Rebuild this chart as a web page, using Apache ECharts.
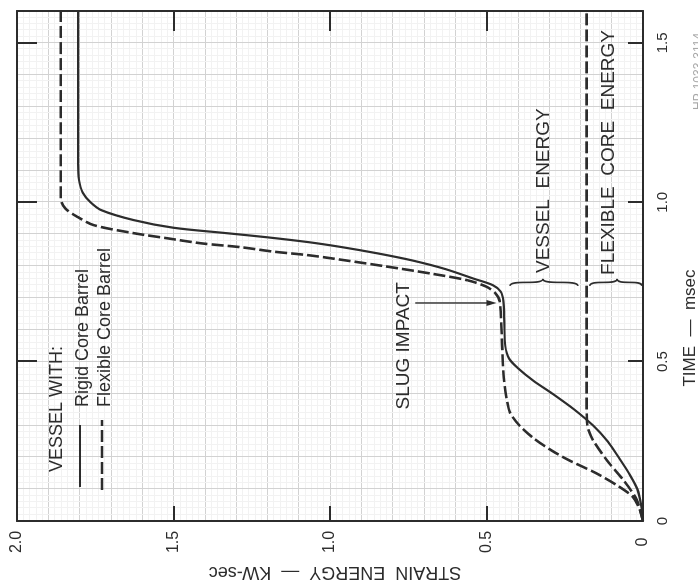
<!DOCTYPE html>
<html>
<head>
<meta charset="utf-8">
<script src="https://cdn.jsdelivr.net/npm/echarts@6/dist/echarts.min.js"></script>
<style>
  html, body { margin: 0; padding: 0; width: 698px; height: 585px; overflow: hidden; background: #fff; }
  /* The plot is laid out upright (time along x) and turned a quarter turn counter-clockwise */
  #chart { position: absolute; left: 0; top: 0; width: 585px; height: 698px;
           transform-origin: 0 0; transform: translate(0px, 585px) rotate(-90deg); }
</style>
</head>
<body>
<div id="chart"></div>
<script>
// ---- Axes -------------------------------------------------------------
const timeMin = 0, timeMax = 1.6;                 // msec
const timeTickValues = [0, 0.5, 1.0, 1.5];
const timeTickLabels = ['0', '0.5', '1.0', '1.5'];

const energyMin = 0, energyMax = 2.0;             // KW-sec
const energyTickValues = [0, 0.5, 1.0, 1.5, 2.0];
const energyTickLabels = ['0', '0.5', '1.0', '1.5', '2.0'];

// ---- Vessel strain energy, rigid core barrel --------------------------
const rigidTime   = [0, 0.05, 0.10, 0.15, 0.20, 0.25, 0.30, 0.35, 0.40, 0.44, 0.48, 0.51, 0.55, 0.62, 0.69, 0.72, 0.74, 0.76, 0.79, 0.818, 0.84, 0.86, 0.875, 0.89, 0.903, 0.92, 0.944, 0.975, 1.0, 1.03, 1.07, 1.12, 1.6];
const rigidEnergy = [0, 0.006, 0.018, 0.045, 0.078, 0.113, 0.16, 0.22, 0.29, 0.35, 0.40, 0.428, 0.44, 0.443, 0.446, 0.455, 0.48, 0.54, 0.63, 0.74, 0.85, 0.967, 1.07, 1.2, 1.33, 1.5, 1.627, 1.73, 1.765, 1.79, 1.802, 1.805, 1.805];

// ---- Vessel strain energy, flexible core barrel -----------------------
const flexTime   = [0, 0.04, 0.075, 0.107, 0.15, 0.19, 0.22, 0.26, 0.30, 0.34, 0.38, 0.45, 0.55, 0.69, 0.715, 0.735, 0.755, 0.775, 0.80, 0.82, 0.834, 0.845, 0.859, 0.871, 0.887, 0.903, 0.928, 0.953, 0.98, 1.01, 1.6];
const flexEnergy = [0, 0.012, 0.032, 0.075, 0.15, 0.235, 0.29, 0.35, 0.395, 0.425, 0.435, 0.445, 0.45, 0.458, 0.472, 0.50, 0.56, 0.67, 0.83, 0.967, 1.07, 1.18, 1.285, 1.41, 1.52, 1.627, 1.754, 1.805, 1.845, 1.86, 1.86];

// ---- Strain energy of the flexible core barrel itself -----------------
const coreTime   = [0, 0.066, 0.13, 0.19, 0.254, 0.29, 0.31, 0.35, 1.6];
const coreEnergy = [0, 0.02, 0.064, 0.115, 0.16, 0.176, 0.179, 0.18, 0.18];

// ---- Styling ----------------------------------------------------------
const INK = '#2c2c2c';
const GRID_MAJOR = '#d2d2d2';
const GRID_MINOR = '#f2f2f2';
const FONT = '"Liberation Sans", Arial, Helvetica, sans-serif';
const DASH = [12, 4];

const pairs = (xs, ys) => xs.map((x, i) => [x, ys[i]]);
const labelFor = (values, labels) => v => {
  const i = values.findIndex(x => Math.abs(x - v) < 1e-6);
  return i < 0 ? '' : labels[i];
};

const hidden = { show: false };
function tickAxis(min, max, position, len, extra) {
  return Object.assign({
    type: 'value', min, max, interval: 0.5, position,
    axisLine: { show: true, onZero: false, lineStyle: { color: INK, width: 2 } },
    axisTick: { show: true, inside: true, length: len, lineStyle: { color: INK, width: 2 } },
    axisLabel: hidden, splitLine: hidden
  }, extra || {});
}
function gridAxis(min, max, position) {
  return {
    type: 'value', min, max, interval: 0.1, position,
    axisLine: hidden, axisTick: hidden, axisLabel: hidden,
    splitLine: { show: true, showMinLine: false, showMaxLine: false, lineStyle: { color: GRID_MAJOR, width: 1 } },
    minorTick: { show: false, splitNumber: 5 },
    minorSplitLine: { show: true, lineStyle: { color: GRID_MINOR, width: 1 } },
    z: 0
  };
}

const option = {
  animation: false,
  backgroundColor: '#fff',
  grid: { left: 64, right: 11, top: 17, bottom: 55, containLabel: false },
  xAxis: [
    tickAxis(timeMin, timeMax, 'bottom', 15, {
      axisLabel: { show: true, formatter: labelFor(timeTickValues, timeTickLabels),
                   color: INK, fontSize: 15, fontFamily: FONT, margin: 12 }
    }),
    tickAxis(timeMin, timeMax, 'top', 20),
    gridAxis(timeMin, timeMax, 'bottom')
  ],
  yAxis: [
    tickAxis(energyMin, energyMax, 'left', 15, {
      axisLabel: { show: true, formatter: labelFor(energyTickValues, energyTickLabels),
                   color: INK, fontSize: 16, fontFamily: FONT, margin: 21, align: 'center' }
    }),
    tickAxis(energyMin, energyMax, 'right', 20),
    gridAxis(energyMin, energyMax, 'left')
  ],
  series: [
    { name: 'Rigid Core Barrel', type: 'line', data: pairs(rigidTime, rigidEnergy),
      smooth: 0.3, showSymbol: false, z: 5,
      lineStyle: { color: INK, width: 2.2, type: 'solid' } },
    { name: 'Flexible Core Barrel', type: 'line', data: pairs(flexTime, flexEnergy),
      smooth: 0.3, showSymbol: false, z: 5,
      lineStyle: { color: INK, width: 2.6, type: DASH } },
    { name: 'Flexible Core Energy', type: 'line', data: pairs(coreTime, coreEnergy),
      smooth: 0.3, showSymbol: false, z: 5,
      lineStyle: { color: INK, width: 2.6, type: DASH } }
  ]
};

const chart = echarts.init(document.getElementById('chart'), null, { renderer: 'canvas', width: 585, height: 698 });
chart.setOption(option);

// ---- Annotations ------------------------------------------------------
const P = (t, e) => chart.convertToPixel({ xAxisIndex: 0, yAxisIndex: 0 }, [t, e]);

function text(str, x, y, size, extra) {
  const el = {
    type: 'text', x, y, z: 20,
    style: { text: str, fill: INK, font: size + 'px ' + FONT, align: 'left', verticalAlign: 'middle' }
  };
  if (extra) {
    if (extra.align) el.style.align = extra.align;
    if (extra.fill) el.style.fill = extra.fill;
    if (extra.rotation) el.rotation = extra.rotation;
  }
  return el;
}
function seg(x1, y1, x2, y2, dash, width) {
  return { type: 'line', z: 20, shape: { x1, y1, x2, y2 },
           style: { stroke: INK, lineWidth: width || 2, lineDash: dash || null } };
}
function curve(x1, y1, cpx1, cpy1, cpx2, cpy2, x2, y2) {
  return { type: 'bezierCurve', z: 20, shape: { x1, y1, cpx1, cpy1, cpx2, cpy2, x2, y2 },
           style: { stroke: INK, lineWidth: 1.6, fill: null } };
}
// curly brace whose ends sit at x and whose point reaches x + d at ym
function brace(x, y1, ym, y2, d) {
  return [
    curve(x, y1, x + d, y1, x, ym, x + d, ym),
    curve(x + d, ym, x, ym, x + d, y2, x, y2)
  ];
}

const slugText = P(0.35, 0.764);
const arrowFrom = P(0.684, 0.728);
const arrowTip = P(0.684, 0.468);
const vesselText = P(0.778, 0.316);
const vBrTop = P(0.747, 0.425), vBrMid = P(0.747, 0.32), vBrBot = P(0.747, 0.208);
const coreText = P(0.772, 0.109);
const cBrTop = P(0.747, 0.17), cBrMid = P(0.747, 0.083), cBrBot = P(0.747, 0.003);

const graphics = [
  // legend
  text('VESSEL WITH:', 113, 57, 18),
  seg(98, 80, 160, 80, null, 2.2),
  text('Rigid Core Barrel', 178, 83, 18),
  seg(95, 102, 165, 102, DASH, 2.6),
  text('Flexible Core Barrel', 178, 105, 18),

  // slug impact marker
  text('SLUG IMPACT', slugText[0], slugText[1], 19),
  seg(arrowFrom[0], arrowFrom[1], arrowTip[0], arrowTip[1] - 8, null, 1.4),
  { type: 'polygon', z: 20,
    shape: { points: [[arrowTip[0], arrowTip[1]], [arrowTip[0] - 3, arrowTip[1] - 10], [arrowTip[0] + 3, arrowTip[1] - 10]] },
    style: { fill: INK } },

  // energy components
  ...brace(vBrTop[0] - 3, vBrTop[1], vBrMid[1], vBrBot[1], 7),
  text('VESSEL  ENERGY', vesselText[0], vesselText[1], 19),
  ...brace(cBrTop[0] - 3, cBrTop[1], cBrMid[1], cBrBot[1], 7),
  text('FLEXIBLE  CORE  ENERGY', coreText[0], coreText[1], 19),

  // axis titles
  text('TIME  —  msec', 257, 690, 17, { align: 'center' }),
  text('STRAIN  ENERGY  —  KW-sec', 13, 335, 18, { align: 'center', rotation: Math.PI / 2 }),

  // drawing number along the edge
  text('HP-1033-3114', 475, 699, 12, { fill: '#a8a8a8' })
];

chart.setOption({ graphic: { elements: graphics } });
</script>
</body>
</html>
